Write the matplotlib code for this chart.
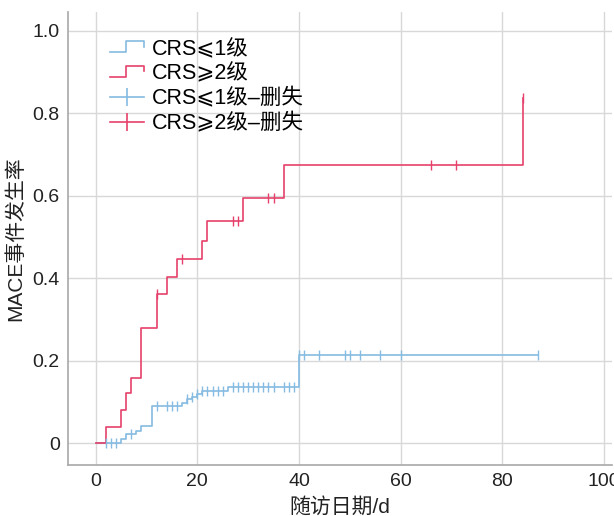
import numpy as np
import matplotlib
matplotlib.use("Agg")
import matplotlib.pyplot as plt
from matplotlib.lines import Line2D
from matplotlib.legend_handler import HandlerLine2D

plt.rcParams['font.family'] = ['Liberation Sans', 'Noto Sans CJK SC', 'DejaVu Sans']

# ---- data ----
red_times = [0, 2, 5, 6, 7, 9, 12, 14, 16, 21, 22, 29, 37, 84]
red_vals = [0, 0.040, 0.080, 0.122, 0.159, 0.280, 0.361, 0.402, 0.446, 0.491, 0.539, 0.595, 0.676, 0.838]
red_end = 84
red_censor = [12, 17, 27, 28, 34, 35, 66, 71, 84]

blue_times = [0, 5, 6, 8, 9, 11, 17, 18, 19, 20, 21, 26, 40]
blue_vals = [0, 0.011, 0.021, 0.029, 0.041, 0.090, 0.098, 0.106, 0.113, 0.120, 0.126, 0.137, 0.215]
blue_end = 87
blue_censor = [2, 3, 4, 7, 12, 14, 15, 16, 18, 19, 20, 21, 22, 23, 24, 25, 27, 28,
               29, 30, 31, 32, 33, 34, 35, 37, 38, 39, 40, 41, 44, 49, 50, 52, 56, 60, 87]

labels = ['CRS⩽1级', 'CRS⩾2级', 'CRS⩽1级–删失', 'CRS⩾2级–删失']
xticks = [0, 20, 40, 60, 80, 100]
yticks = [0, 0.2, 0.4, 0.6, 0.8, 1.0]
ytick_labels = ['0', '0.2', '0.4', '0.6', '0.8', '1.0']

RED = '#e6416b'
BLUE = '#86bbe2'

fig = plt.figure(figsize=(6.14, 5.16), dpi=100)
ax = fig.add_axes([68/614, 1 - 465/516, (612-68)/614, (465-12)/516])


def step_value(times, vals, t):
    idx = np.searchsorted(np.asarray(times), t, side='right') - 1
    return np.asarray(vals)[idx]


def draw_curve(times, vals, end, censor, color):
    x = list(times) + [end]
    y = list(vals) + [vals[-1]]
    ax.step(x, y, where='post', color=color, lw=1.2, zorder=3)
    cy = [step_value(times, vals, t) for t in censor]
    ax.plot(censor, cy, linestyle='none', marker='|', markersize=7,
            markeredgewidth=1.0, color=color, zorder=4)


draw_curve(blue_times, blue_vals, blue_end, blue_censor, BLUE)
draw_curve(red_times, red_vals, red_end, red_censor, RED)

ax.set_xlim(-5.45, 101.6)
ax.set_ylim(-0.053, 1.046)
ax.set_xticks(xticks)
ax.set_yticks(yticks)
ax.set_yticklabels(ytick_labels)
ax.tick_params(length=0, labelsize=14, colors='#222222', pad=6)
ax.grid(True, color='#d8d8d8', lw=1)
ax.set_axisbelow(True)
for s in ['top', 'right']:
    ax.spines[s].set_visible(False)
for s in ['left', 'bottom']:
    ax.spines[s].set_color('#a8a8a8')
    ax.spines[s].set_linewidth(1.2)

ax.set_xlabel('随访日期/d', fontsize=15, color='#222222', labelpad=5)
ax.set_ylabel('MACE事件发生率', fontsize=15, color='#222222', labelpad=5)


class StepHandler(HandlerLine2D):
    def create_artists(self, legend, orig_handle, xdescent, ydescent, width, height, fontsize, trans):
        x0 = -xdescent
        x1 = x0 + width
        xm = x0 + 0.45 * width
        lo = -ydescent + 0.2 * height
        hi = -ydescent + 0.9 * height
        line = Line2D([x0, xm, xm, x1, x1], [lo, lo, hi, hi, hi - 0.35 * height],
                      color=orig_handle.get_color(), lw=1.2)
        line.set_transform(trans)
        return [line]


h1 = Line2D([], [], color=BLUE)
h2 = Line2D([], [], color=RED)
h3 = Line2D([], [], color=BLUE, lw=1.2, marker='|', markersize=13, markeredgewidth=1.2)
h4 = Line2D([], [], color=RED, lw=1.2, marker='|', markersize=13, markeredgewidth=1.2)
ax.legend([h1, h2, h3, h4], labels, loc='upper left',
          bbox_to_anchor=((110-68)/544, (465-39)/453), borderaxespad=0,
          frameon=False, fontsize=15.5, handlelength=1.6, handletextpad=0.35,
          labelspacing=0.17, borderpad=0,
          handler_map={h1: StepHandler(), h2: StepHandler()})

fig.savefig('out.png', dpi=100)
